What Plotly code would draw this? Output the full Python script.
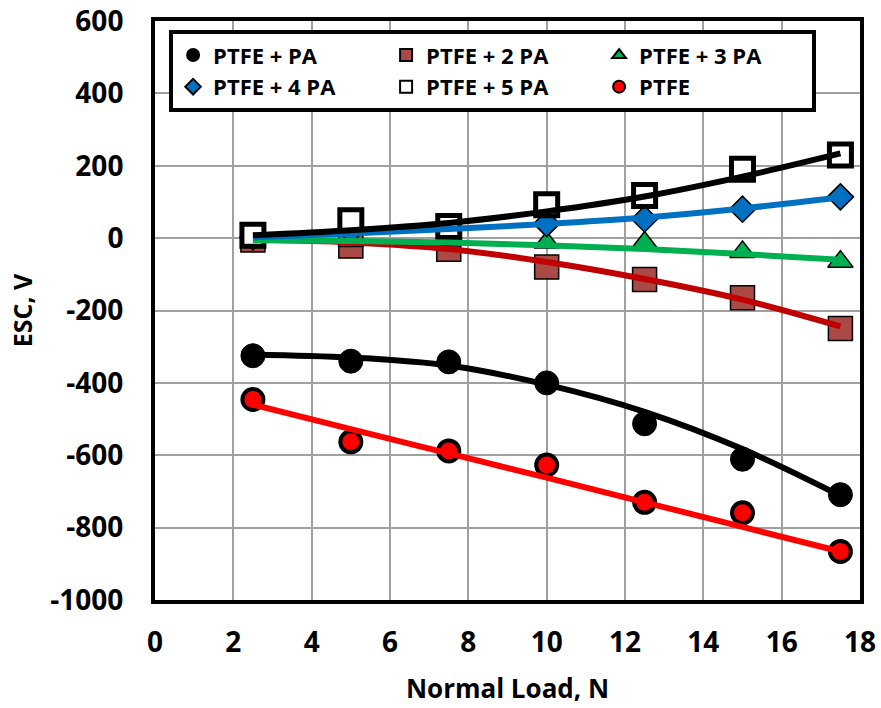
import plotly.graph_objects as go

load = [2.5, 5, 7.5, 10, 12.5, 15, 17.5]

esc_pa = [-325, -340, -342, -400, -513, -611, -709]
esc_2pa = [-5, -22, -31, -80, -114, -165, -250]
esc_3pa = [-2, -8, -6, -12, -12, -38, -65]
esc_4pa = [3, 20, 28, 40, 53, 80, 114]
esc_5pa = [8, 48, 32, 92, 118, 190, 230]
esc_ptfe = [-446, -563, -588, -627, -730, -759, -866]

# trend lines at the same loads
fit_pa = [-322, -330, -352, -405, -480, -583, -712]
fit_2pa = [-4, -12, -30, -66, -113, -170, -244]
fit_3pa = [-6, -8, -12, -20, -30, -44, -60]
fit_4pa = [2, 13, 25, 39, 57, 82, 113]
fit_5pa = [8, 22, 42, 74, 115, 170, 234]
fit_ptfe = [-460, -528, -595, -662, -730, -798, -866]

names = ["PTFE + PA", "PTFE + 2 PA", "PTFE + 3 PA", "PTFE + 4 PA", "PTFE + 5 PA", "PTFE"]

x_ticks = [0, 2, 4, 6, 8, 10, 12, 14, 16, 18]
y_ticks = [-1000, -800, -600, -400, -200, 0, 200, 400, 600]
y_tick_text = ["-1000", "-800", "-600", "-400", "-200", "0", "200", "400", "600"]

fig = go.Figure()

marker_styles = [
    (esc_pa, dict(symbol="circle", size=24, color="black", line=dict(color="black", width=1))),
    (esc_2pa, dict(symbol="square", size=24, color="#A94A47", line=dict(color="black", width=1.5))),
    (esc_3pa, dict(symbol="triangle-up", size=22, color="#00B050", line=dict(color="black", width=1.5))),
    (esc_4pa, dict(symbol="diamond", size=20, color="#0070C0", line=dict(color="black", width=1.5))),
    (esc_5pa, dict(symbol="square", size=22, color="white", line=dict(color="black", width=5))),
    (esc_ptfe, dict(symbol="circle", size=21, color="#FF0000", line=dict(color="black", width=4))),
]
for name, (vals, mk) in zip(names, marker_styles):
    fig.add_trace(go.Scatter(x=load, y=vals, mode="markers", name=name, marker=mk))

line_styles = [
    (fit_2pa, "#C00000"),
    (fit_3pa, "#00B050"),
    (fit_4pa, "#0070C0"),
    (fit_5pa, "black"),
    (fit_pa, "black"),
    (fit_ptfe, "#FF0000"),
]
for vals, col in line_styles:
    fig.add_trace(go.Scatter(x=load, y=vals, mode="lines", showlegend=False,
                             line=dict(color=col, width=6, shape="spline"), hoverinfo="skip"))

font_family = "Open Sans, sans-serif"

fig.update_layout(
    width=881, height=708,
    margin=dict(l=155, r=21, t=21, b=108),
    plot_bgcolor="white", paper_bgcolor="white",
    font=dict(family=font_family, size=22, color="black"),
    legend=dict(
        orientation="h", x=0.02, y=0.984, xanchor="left", yanchor="top",
        bgcolor="white", bordercolor="black", borderwidth=4,
        font=dict(family=font_family, size=22, color="black", weight="bold"),
        entrywidth=168, entrywidthmode="pixels", itemsizing="constant",
        tracegroupgap=0,
    ),
    xaxis=dict(
        range=[0, 18], tickvals=x_ticks, ticktext=[str(v) for v in x_ticks],
        showgrid=True, gridcolor="#A0A0A0", gridwidth=2,
        showline=True, linecolor="black", linewidth=4, mirror=True,
        zeroline=False, ticks="", automargin=False, ticklabelstandoff=14,
        ticklabeloverflow="allow",
        tickfont=dict(family=font_family, size=28, color="black", weight="bold"),
        title=dict(text="Normal Load, N", standoff=22,
                   font=dict(family=font_family, size=26, color="black", weight="bold")),
    ),
    yaxis=dict(
        range=[-1000, 600], tickvals=y_ticks, ticktext=y_tick_text,
        showgrid=True, gridcolor="#A0A0A0", gridwidth=2,
        showline=True, linecolor="black", linewidth=4, mirror=True,
        zeroline=False, ticks="", automargin=False, ticklabelstandoff=22,
        ticklabeloverflow="allow",
        tickfont=dict(family=font_family, size=28, color="black", weight="bold"),
        title=dict(text="ESC, V", standoff=12,
                   font=dict(family=font_family, size=25, color="black", weight="bold")),
    ),
)

fig.write_html(
    "out.html",
    config={"displayModeBar": False},
    post_script="document.body.style.margin='0';document.body.style.overflow='hidden';",
)
